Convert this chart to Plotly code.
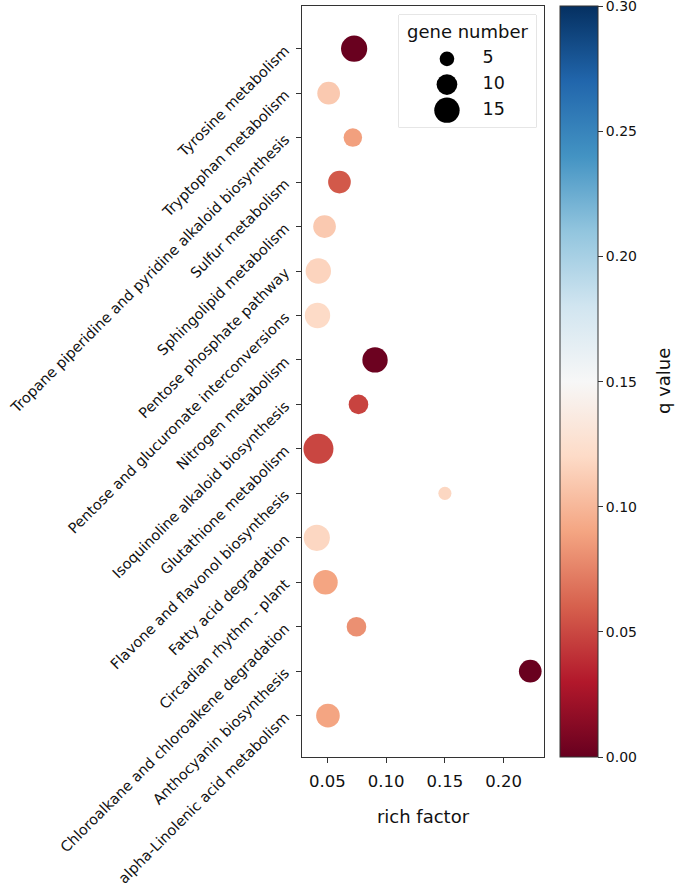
import numpy as np
import plotly.graph_objects as go

categories = [
    "Tyrosine metabolism",
    "Tryptophan metabolism",
    "Tropane piperidine and pyridine alkaloid biosynthesis",
    "Sulfur metabolism",
    "Sphingolipid metabolism",
    "Pentose phosphate pathway",
    "Pentose and glucuronate interconversions",
    "Nitrogen metabolism",
    "Isoquinoline alkaloid biosynthesis",
    "Glutathione metabolism",
    "Flavone and flavonol biosynthesis",
    "Fatty acid degradation",
    "Circadian rhythm - plant",
    "Chloroalkane and chloroalkene degradation",
    "Anthocyanin biosynthesis",
    "alpha-Linolenic acid metabolism",
]
rich_factor = [0.0727, 0.0510, 0.0716, 0.0602, 0.0475, 0.0422, 0.0415, 0.0905,
               0.0764, 0.0423, 0.1500, 0.0409, 0.0483, 0.0747, 0.2227, 0.0504]
gene_number = [16, 12, 8, 12, 12, 15, 15, 15, 9, 21, 4, 16, 14, 9, 12, 13]
q_value = [0.001, 0.110, 0.088, 0.057, 0.110, 0.116, 0.120, 0.002,
           0.048, 0.049, 0.118, 0.118, 0.090, 0.081, 0.001, 0.090]

legend_sizes = [5, 10, 15]
x_ticks = [0.05, 0.10, 0.15, 0.20]
cbar_ticks = [0.00, 0.05, 0.10, 0.15, 0.20, 0.25, 0.30]

rdbu = [
    [0.0, "rgb(103,0,31)"], [0.1, "rgb(178,24,43)"], [0.2, "rgb(214,96,77)"],
    [0.3, "rgb(244,165,130)"], [0.4, "rgb(253,219,199)"], [0.5, "rgb(247,247,247)"],
    [0.6, "rgb(209,229,240)"], [0.7, "rgb(146,197,222)"], [0.8, "rgb(67,147,195)"],
    [0.9, "rgb(33,102,172)"], [1.0, "rgb(5,48,97)"],
]

K = 6.55  # px diameter per sqrt(gene)
FONT = "DejaVu Sans"
TXT = "#111"
AX = "#333"

# plot area in pixels: x 302..544, y 6..757
W, H = 685, 887
L, R, T, B = 302, 685 - 544, 6, 887 - 757
pw, ph = W - L - R, H - T - B


def px_x(px):
    return (px - L) / pw


def px_y(py):
    return 1 - (py - T) / ph


fig = go.Figure()
fig.add_trace(go.Scatter(
    x=rich_factor, y=categories, mode="markers", showlegend=False,
    hoverinfo="x+y",
    marker=dict(
        size=[K * np.sqrt(g) for g in gene_number], sizemode="diameter",
        color=q_value, colorscale=rdbu, cmin=0, cmax=0.3001, opacity=1,
        line=dict(width=0),
        colorbar=dict(
            x=px_x(559.5), xanchor="left", xpad=0, y=0.5, yanchor="middle", ypad=0,
            thickness=38, len=ph, lenmode="pixels",
            outlinecolor=AX, outlinewidth=1,
            ticks="outside", ticklen=5, tickcolor=AX, ticklabeloverflow="allow",
            tickvals=cbar_ticks, ticktext=[f"{t:.2f}" for t in cbar_ticks],
            tickfont=dict(family=FONT, size=14, color=TXT),
        ),
    ),
))

# size legend drawn on an overlay axis
box_x0, box_x1 = px_x(399), px_x(536)
box_y0, box_y1 = px_y(127.5), px_y(15)
rows = [0.61 - 0.228 * i for i in range(len(legend_sizes))]
fig.add_trace(go.Scatter(
    x=[0.35] * len(legend_sizes), y=rows, xaxis="x2", yaxis="y2",
    mode="markers", showlegend=False, hoverinfo="skip",
    marker=dict(size=[K * np.sqrt(s) for s in legend_sizes], color="#000000",
                opacity=1, line=dict(width=0)),
))
fig.add_trace(go.Scatter(
    x=[0.61] * len(legend_sizes), y=rows, xaxis="x2", yaxis="y2",
    mode="text", text=[str(s) for s in legend_sizes], textposition="middle right",
    showlegend=False, hoverinfo="skip",
    textfont=dict(family=FONT, size=17.5, color=TXT),
))

fig.update_layout(
    width=W, height=H,
    margin=dict(l=L, r=R, t=T, b=B, autoexpand=False),
    paper_bgcolor="white", plot_bgcolor="white",
    font=dict(family=FONT, size=15, color=TXT),
    showlegend=False,
    xaxis=dict(
        range=[0.0283, 0.2344], tickvals=x_ticks, ticktext=[f"{t:.2f}" for t in x_ticks],
        showline=True, linecolor=AX, linewidth=1, mirror=True, automargin=False,
        ticks="outside", ticklen=5, tickcolor=AX, showgrid=False, zeroline=False,
        tickfont=dict(size=16.5, color=TXT), ticklabelstandoff=4,
        title=dict(text="rich factor", font=dict(size=18, color=TXT), standoff=20),
    ),
    yaxis=dict(
        type="category", categoryorder="array", categoryarray=categories,
        range=[15.93, -0.96], tickangle=-45, automargin=False,
        showline=True, linecolor=AX, linewidth=1, mirror=True,
        ticks="outside", ticklen=5, tickcolor=AX, showgrid=False, zeroline=False,
        tickfont=dict(size=14.5, color=TXT), ticklabelstandoff=8,
    ),
    xaxis2=dict(domain=[box_x0, box_x1], range=[0, 1], anchor="y2", visible=False,
                fixedrange=True),
    yaxis2=dict(domain=[box_y0, box_y1], range=[0, 1], anchor="x2", visible=False,
                fixedrange=True),
    shapes=[dict(type="rect", xref="paper", yref="paper", x0=box_x0, x1=box_x1,
                 y0=box_y0, y1=box_y1, line=dict(color="#cccccc", width=1),
                 fillcolor="white", layer="below")],
    annotations=[
        dict(text="q value", textangle=-90, x=px_x(676), y=0.5, xref="paper", yref="paper",
             showarrow=False, font=dict(size=18, family=FONT, color=TXT)),
        dict(text="gene number", x=px_x(467.5), y=px_y(32), xref="paper", yref="paper",
             xanchor="center", yanchor="middle",
             showarrow=False, font=dict(size=18, family=FONT, color=TXT)),
    ],
)

fig.write_html("out.html", config={"displayModeBar": False},
               post_script="document.body.style.margin='0';document.body.style.padding='0';")
